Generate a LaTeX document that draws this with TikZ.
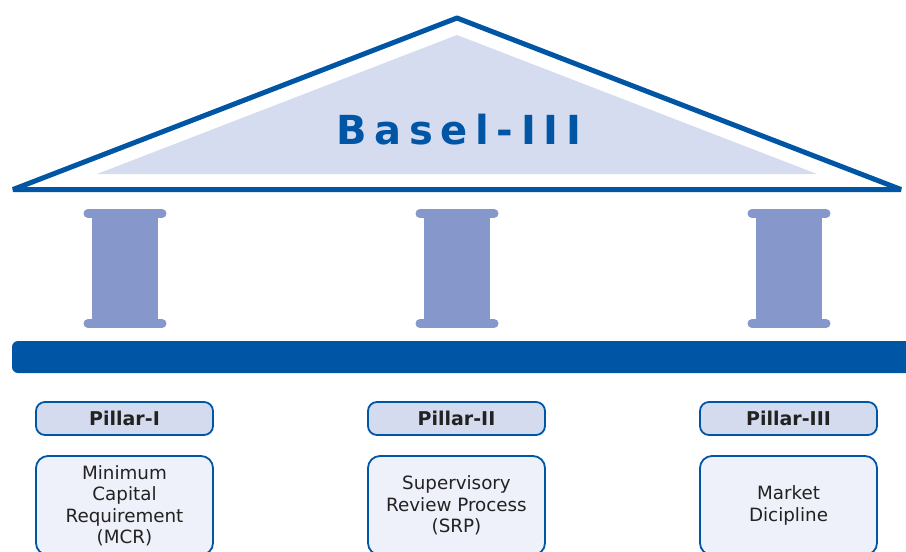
\documentclass[tikz,border=0pt]{standalone}
\usepackage{fontspec}
\setmainfont{DejaVu Sans}
\newfontfamily\titlefont[LetterSpace=19]{DejaVu Sans}
\definecolor{bblue}{HTML}{0055A4}
\definecolor{pillarc}{HTML}{8597CB}
\definecolor{roofc}{HTML}{D5DCEF}
\definecolor{labelc}{HTML}{D5DBEE}
\definecolor{bodyc}{HTML}{EEF1F9}
\definecolor{txt}{HTML}{222222}
\begin{document}
\begin{tikzpicture}[x=1pt,y=-1pt,
  labelbox/.style={draw=bblue,line width=1.8pt,fill=labelc,rounded corners=9pt,
    minimum width=177pt,minimum height=33pt,inner sep=0pt,
    font=\fontsize{19}{21.5}\selectfont\bfseries,text=txt},
  bodybox/.style={draw=bblue,line width=1.8pt,fill=bodyc,rounded corners=12pt,
    minimum width=177pt,minimum height=99pt,inner sep=0pt,
    font=\fontsize{18.3}{21.5}\selectfont,text=txt,align=center},
  capbar/.style={draw=pillarc,line width=9pt,line cap=round}]
\useasboundingbox (0,0) rectangle (906,552);
\clip (0,0) rectangle (906,552);
% roof
\fill[roofc] (97,174) -- (457,35) -- (817,174) -- cycle;
\draw[bblue,line width=5pt,line join=bevel] (13,189.5) -- (457,18) -- (901,189.5) -- cycle;
\node[text=bblue,font=\titlefont\fontsize{40}{40}\selectfont\bfseries] (title) at (459,129.5) {Basel-III};
% pillars
\foreach \c/\n in {125/p1,457/p2,789/p3}{
  \fill[pillarc] (\c-33,213.5) rectangle (\c+33,323.5);
  \draw[capbar] (\c-37,213.5) -- (\c+37,213.5);
  \draw[capbar] (\c-37,323.5) -- (\c+37,323.5);
  \coordinate (\n) at (\c,268);
}
% base
\fill[bblue,rounded corners=6pt] (12,341) rectangle (930,373);
% labels
\node[labelbox] (l1) at (124.5,418.5) {Pillar-I};
\node[labelbox] (l2) at (456.5,418.5) {Pillar-II};
\node[labelbox] (l3) at (788.5,418.5) {Pillar-III};
\node[bodybox] (b1) at (124.5,505.5) {Minimum\\Capital\\Requirement\\(MCR)};
\node[bodybox] (b2) at (456.5,505.5) {Supervisory\\Review Process\\(SRP)};
\node[bodybox] (b3) at (788.5,505.5) {Market\\Dicipline};
\end{tikzpicture}
\end{document}
